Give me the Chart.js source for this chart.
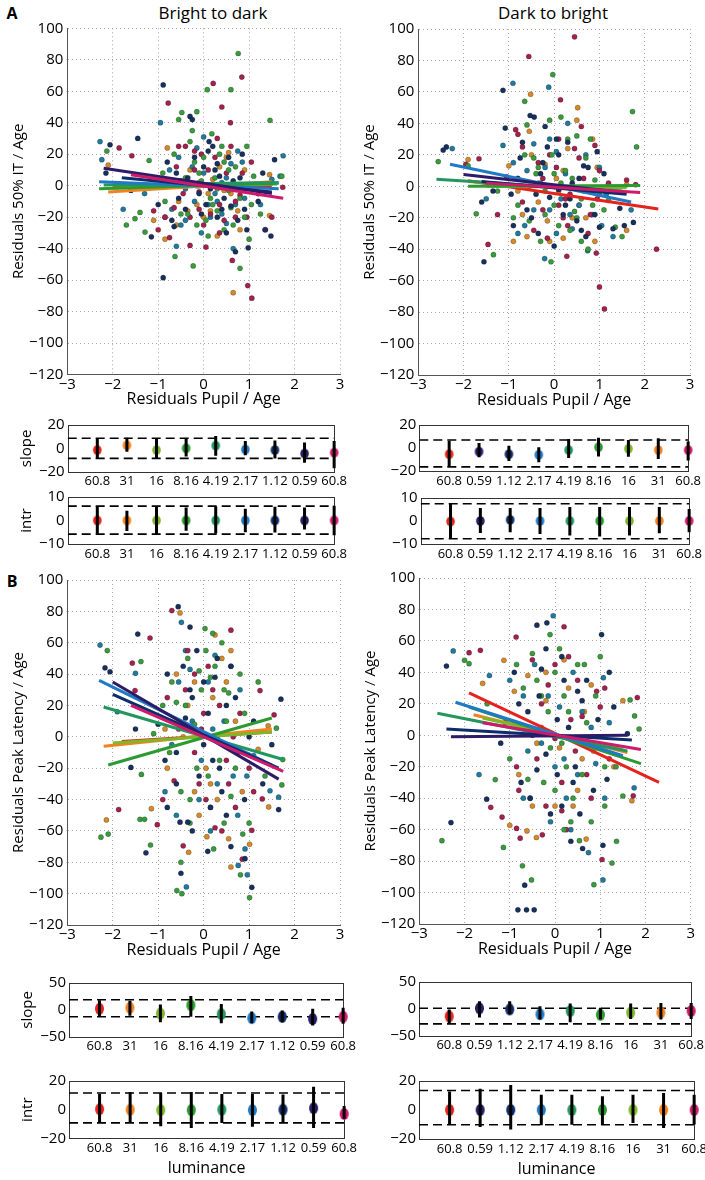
<!DOCTYPE html>
<html>
<head>
<meta charset="utf-8">
<script src="https://cdn.jsdelivr.net/npm/chart.js@4.4.1/dist/chart.umd.min.js"></script>
<style>
  body { margin: 0; background: #fff; width: 705px; height: 1180px; position: relative; overflow: hidden; font-family: "Open Sans", sans-serif; color: #000; }
  canvas { position: absolute; }
  .lbl { position: absolute; transform: translate(-50%, -50%); white-space: nowrap; }
</style>
</head>
<body>
<div class="lbl" style="left:12px;top:13px;font-size:16px;font-weight:bold">A</div>
<div class="lbl" style="left:12px;top:581px;font-size:16px;font-weight:bold">B</div>
<div class="lbl" style="left:213px;top:12px;font-size:17px">Bright to dark</div>
<div class="lbl" style="left:553px;top:12px;font-size:17px">Dark to bright</div>

<script>
// ---------------------- DATA ---------------------
const xTicks = [-3, -2, -1, 0, 1, 2, 3];
const yTicksScatter = [-120, -100, -80, -60, -40, -20, 0, 20, 40, 60, 80, 100];
const lumLeft = ["60.8", "31", "16", "8.16", "4.19", "2.17", "1.12", "0.59", "60.8"];
const lumRight = ["60.8", "0.59", "1.12", "2.17", "4.19", "8.16", "16", "31", "60.8"];
const lumPos = [1, 2, 3, 4, 5, 6, 7, 8, 9];

// scatter points, A bright to dark
const aLeftNavy = [[-0.89,64],[-2.06,26],[-1.45,30],[1.56,16.5],[-1.15,-32.5],[-0.89,-58.5],[0.98,-39.5],[1.48,-32],[0.7,-42],[-0.3,44],[-0.25,42],[0.1,22],[0.2,25],[0.45,-8],[-0.6,8],[-0.1,-5],[0.3,-20],[0.55,18],[-0.4,-15],[0.8,5],[-1.0,-12],[1.2,-10],[0.0,12],[-0.7,-22],[0.15,-2],[0.95,-28],[-0.5,3],[0.35,6],[1.1,0],[-1.6,-3],[-2.15,8],[0.6,-13],[1.35,-28],
  [-0.2,18],[0.05,-12],[0.4,-15],[-0.55,-8],[0.25,10],[0.65,3],[-0.8,15],[0.9,-15],[-0.35,5],[0.5,-30],[0.12,28],[-0.05,-18],[0.75,-22],[-0.15,0],[1.3,8],[0.3,14],[-0.65,-26],[0.85,20]];
const aLeftGreen = [[0.76,84],[0.08,61],[0.6,61],[-0.15,47],[-0.48,46.5],[1.46,41.5],[-2.13,22],[1.72,6],[-1.7,-25],[-1.51,-21],[-1.29,-29.5],[-0.63,-45],[-0.23,-51],[0.8,-52.5],[-0.55,42],[0.18,33],[0.35,20],[-0.2,15],[0.55,-3],[-0.35,-18],[0.05,-22],[0.9,-20],[1.0,-34],[-0.85,-10],[0.25,5],[-0.1,8],[0.6,-14],[1.25,-18],[-1.2,16],[-0.65,20],[0.45,-28],[0.15,-8],[1.1,6],[-1.4,-17],[0.7,12],[-0.3,28],[0.3,-16],
  [-0.4,5],[0.2,-12],[0.55,10],[-0.15,-25],[0.4,25],[-0.7,0],[0.0,18],[0.8,-8],[-0.5,-18],[0.3,-2],[-0.25,35],[0.65,-25],[1.05,-12],[-0.9,8],[0.1,-32],[0.45,15],[-0.05,3],[0.95,25]];
const aLeftMaroon = [[0.84,69],[0.21,65],[-0.78,52.5],[0.4,50],[0.59,40],[-1.86,24],[-1.58,19],[1.74,-1],[-1.0,-28],[0.63,-47.5],[0.97,-63.5],[1.06,-71.5],[1.36,-28],[-0.55,25],[-0.4,25],[-0.2,10],[0.3,30],[-0.1,-4],[0.5,8],[-0.65,-14],[0.15,-18],[0.8,-6],[-0.3,-38],[0.05,-39],[0.35,-12],[0.95,-20],[1.5,-20],[-0.85,-20],[0.7,-20],[-0.75,-33],[-0.05,20],[1.05,15],[-1.1,-16],
  [-0.3,-20],[0.1,10],[0.45,-22],[-0.6,12],[0.25,18],[0.7,-10],[-0.1,-15],[0.55,0],[-0.45,-5],[0.85,8],[0.0,-25],[-0.75,2],[1.2,-5],[0.35,-30],[-0.2,22],[0.6,25]];
const aLeftTeal = [[-2.28,28],[-2.24,16.5],[1.75,19],[1.68,6],[-1.77,-15],[-0.6,-38.5],[0.65,-40],[-0.95,40],[0.0,31],[-0.15,24],[0.25,-5],[0.5,-24],[-0.4,-2],[0.75,22],[-0.75,10],[0.1,-12],[1.25,-12],[-0.5,-25],[0.9,-8],[0.4,2],[-0.2,-10],[1.5,4],[-1.3,-5],[0.6,14],[-0.05,-30],
  [-0.25,12],[0.15,-20],[0.5,5],[-0.55,18],[0.3,-10],[-0.1,0],[0.7,-12],[0.0,8],[-0.4,-22],[0.85,15],[0.4,-18],[-0.7,-15]];
const aLeftOrange = [[0.65,-68],[-0.8,24],[-0.85,-34],[-0.85,-20],[-1.1,-22],[0.3,-32],[0.15,-16],[0.9,10],[1.45,7],[1.45,-19],[0.55,21],[-0.35,-16],[0.2,4],[-0.1,2],[0.45,-3],[-0.55,-10],[0.75,-16],[1.2,-5],[-2.1,13],[0.0,-20],
  [-0.3,10],[0.1,-5],[0.6,-5],[-0.6,-25],[0.35,12],[0.8,-28],[-0.15,-12],[0.5,18]];

// scatter points, A dark to bright
const aRightNavy = [[-1.13,61],[-0.53,45],[-0.44,44],[-1.08,37],[-2.45,23],[-2.38,25],[-1.55,-48],[-1.6,-10],[-0.2,38],[0.3,28],[0.65,13],[-0.8,5],[-0.1,-7],[0.5,-22],[1.0,-26],[1.3,-27],[1.55,-25],[-0.35,-30],[0.25,-12],[0.85,-3],[-0.6,-15],[0.1,20],[1.45,-14],[-0.95,-5],[0.4,2],[-0.25,15],[0.7,-32],[1.75,-23],[-1.35,-3],[0.95,22],[0.0,-38],[-0.7,28],
  [-0.3,8],[0.2,-18],[0.55,5],[-0.5,-20],[0.1,-2],[0.75,12],[-0.75,18],[0.35,-8],[-0.15,25],[0.9,-18],[-0.4,-5],[0.6,-28],[0.05,30],[1.1,8],[-0.9,-25]];
const aRightGreen = [[-0.03,71],[-0.65,54],[1.73,47.5],[-2.56,15.7],[1.82,25],[-1.72,-17.5],[-1.34,-43.5],[-0.07,-48],[-0.6,39],[-0.1,42],[0.15,44],[0.5,32],[0.8,30],[-0.45,18],[0.25,10],[-0.2,-3],[0.6,-8],[-0.8,-12],[0.35,-28],[-0.3,-35],[1.1,-15],[1.35,-26],[1.5,-32],[-1.25,-3],[0.0,8],[0.9,4],[-0.55,-22],[0.45,-16],[-1.9,13],[1.2,-9],[-0.9,-20],[0.1,-25],[0.75,-40],
  [-0.4,8],[0.15,2],[0.5,-20],[-0.65,20],[0.3,30],[-0.2,-18],[0.7,18],[0.0,-12],[-0.8,0],[0.4,5],[1.0,-5],[-0.35,12],[0.6,-35],[-0.05,20],[0.85,-12]];
const aRightMaroon = [[0.45,95],[-0.56,82.5],[0.14,55],[-1.66,17.5],[-1.95,14],[1.8,1],[-1.46,-37],[0.28,-44.5],[0.93,-42.5],[1.0,-64],[2.26,-40],[1.11,-78],[-0.85,36],[-0.8,33],[0.6,38],[0.9,26],[0.05,12],[-0.25,5],[0.55,18],[-0.7,-10],[0.2,-20],[-0.15,-33],[0.75,-30],[1.2,2],[-1.05,6],[0.35,-5],[-0.45,-28],[0.95,-8],[-1.25,-18],[0.1,30],[1.6,4],
  [-0.35,15],[0.25,-8],[0.65,5],[-0.55,0],[0.1,-12],[0.45,24],[-0.1,20],[0.8,-18],[-0.7,25],[0.3,-25],[-0.25,-15],[1.0,10]];
const aRightTeal = [[-0.12,63],[-0.91,65.5],[-1.13,26],[-2.25,24],[1.7,-15],[-0.21,-46],[0.74,-41],[-0.45,27],[0.3,40],[0.05,22],[-0.6,10],[0.6,-2],[-0.1,-15],[0.4,-27],[-0.8,-30],[1.0,12],[1.3,-32],[-0.3,2],[0.85,-18],[0.15,-8],[-1.5,-8],[1.15,-5],[-0.65,-25],
  [-0.2,12],[0.25,8],[0.55,-12],[-0.45,-15],[0.05,-30],[0.7,20],[-0.9,15],[0.35,-18],[1.05,-25],[-0.1,30]];
const aRightOrange = [[-0.52,58.5],[0.52,50],[-1.9,17],[0.5,42],[-0.55,35],[-0.2,14],[0.85,30],[0.3,24],[-0.8,-3],[0.1,-3],[0.55,-12],[-0.35,-10],[-0.6,-32],[-0.9,-35],[0.9,-35],[1.6,-28],[1.6,1],[-0.15,-22],[0.7,-20],[0.2,-33],[1.1,-2],[-1.0,13],
  [-0.35,2],[0.2,10],[0.65,-3],[-0.5,20],[0.05,5],[0.4,-20],[-0.7,-18],[0.95,12],[-0.1,-35]];

// scatter points, B bright to dark
const bLeftNavy = [[-0.56,83],[-0.3,70],[-1.45,65.5],[-2.17,44],[-2.06,41.5],[-1.6,-19.5],[-1.27,-74],[-0.52,-54.4],[-0.35,-54.4],[-0.5,-87],[0.09,-73],[0.6,-70],[1.06,-96],[0.91,-77.7],[1.65,-46.4],[1.3,-30],[-0.8,40],[-0.15,55],[0.25,38],[0.5,20],[-0.4,12],[0.0,-5],[0.35,-20],[-0.6,-30],[0.75,-10],[1.0,0],[-1.0,8],[0.15,-45],[-0.25,25],[0.6,45],[1.5,-5],[-0.85,-15],[1.7,24],[-1.5,5],[0.4,-35],
  [-0.3,30],[0.1,15],[0.45,-5],[-0.6,-10],[0.3,50],[-0.1,-25],[0.7,25],[-0.45,45],[0.2,-15],[0.9,-40],[-0.8,-45],[0.5,-50],[0.0,35],[-0.25,-60],[1.1,10]];
const bLeftGreen = [[0.03,69],[0.2,66],[-2.12,55],[-1.38,48],[1.6,5.5],[1.2,35],[1.74,-14.5],[-1.37,-24],[-2.26,-64],[-2.1,-62],[-1.4,-52.6],[-1.3,-52.6],[-1.17,-69],[-0.5,-80],[-0.59,-98],[-0.48,-100],[0.22,-71.5],[0.81,-88],[1.01,-102.5],[0.86,-62],[1.72,-30.7],[-0.35,50],[-0.1,42],[0.15,38],[0.4,60],[0.55,28],[-0.6,22],[-0.2,8],[0.3,0],[-0.75,-10],[0.1,-25],[0.6,-38],[-0.3,-40],[0.9,15],[-1.1,2],[0.45,-55],[-0.05,30],[1.35,-25],
  [-0.4,20],[0.25,45],[0.5,10],[-0.15,-20],[0.35,-15],[-0.7,35],[0.7,-20],[0.05,55],[-0.5,-35],[0.8,40],[0.15,-45],[-0.9,20],[1.0,-55],[0.45,30],[-0.3,-55]];
const bLeftMaroon = [[-0.7,80.5],[0.6,68],[-1.18,63],[-1.57,47],[-1.51,29.5],[1.24,29.5],[-1.87,-46.4],[-1.02,-56],[-0.45,-69.5],[0.85,-78],[1.06,-59.6],[1.29,-39.6],[-0.4,30],[0.1,45],[0.35,20],[-0.2,-10],[0.5,-15],[-0.65,-28],[0.0,15],[0.7,-45],[-0.9,-40],[1.0,-20],[0.25,-58],[-0.1,-30],[1.55,14],
  [-0.35,55],[0.2,30],[0.55,-30],[-0.55,5],[0.05,-40],[0.8,15],[-0.2,40],[0.4,-60],[-0.8,25],[0.65,0],[1.1,-35],[-0.05,5]];
const bLeftTeal = [[-0.49,73],[-2.28,58.5],[-1.5,40.5],[-1.9,16],[-0.38,-95.7],[0.76,-82],[0.96,-88],[0.91,-71.5],[1.65,-38.5],[1.46,-34.4],[-0.55,35],[-0.3,43],[0.25,52],[0.45,10],[-0.05,-15],[0.65,-25],[-0.7,-5],[0.15,-60],[1.1,-12],[-0.85,-35],[0.8,30],
  [-0.25,10],[0.3,-30],[0.6,45],[-0.6,-50],[0.1,35],[-0.4,55],[0.75,-50],[0.2,5],[-0.1,-40],[0.95,-25]];
const bLeftOrange = [[-0.52,79],[0.6,55],[1.42,7],[-2.14,-53],[-1.15,-45.8],[-0.33,-73.6],[0.07,-63.7],[0.6,-83],[1.01,-68.5],[1.43,-44.7],[-0.2,35],[0.2,25],[0.5,35],[-0.45,0],[0.05,-20],[0.3,-40],[-0.8,-20],[0.85,-35],[1.2,-8],[-0.1,-50],
  [-0.35,20],[0.4,50],[0.15,-30],[-0.6,40],[0.7,10],[-0.2,-35],[0.55,-65],[-0.85,5],[0.25,65]];

// scatter points, B dark to bright
const bRightNavy = [[-0.4,70],[-0.18,71.5],[1.03,64],[-2.4,44],[-1.51,-40.6],[-2.3,-55.5],[-0.67,-95.3],[-0.82,-111],[-0.63,-111],[-0.46,-111],[0.35,-67.4],[0.61,-72],[1.06,-70],[-0.9,40],[-0.3,42],[0.2,35],[0.5,28],[-0.6,15],[0.05,10],[-0.2,-12],[0.4,-30],[0.8,-5],[-0.75,-30],[1.3,18],[1.15,-28],[0.6,22],[-1.2,-5],[0.15,-45],[-0.4,-22],[1.6,1],[0.85,-35],
  [-0.35,25],[0.15,50],[0.45,-20],[-0.55,-40],[0.05,-25],[0.7,35],[-0.2,55],[0.3,5],[-0.8,20],[0.95,10],[-0.1,-50],[0.55,-50],[1.2,40],[-0.5,0]];
const bRightGreen = [[-0.11,64],[1.0,50],[-2.0,47.7],[-1.9,45.5],[1.66,22.5],[1.76,12.3],[1.86,4],[-1.32,-28.2],[-2.5,-67],[-1.14,-71.3],[-0.72,-83],[-0.52,-92],[0.2,-60],[0.54,-67],[0.86,-95],[1.26,-81.2],[1.36,-67.4],[1.5,-38.6],[-0.5,52],[0.1,55],[0.5,45],[-0.3,25],[0.3,15],[-0.7,30],[0.7,8],[-0.1,-8],[0.25,-20],[-0.55,-40],[1.1,-45],[0.9,25],[-1.0,-15],[0.0,-35],[-1.5,20],[1.35,-20],
  [-0.4,35],[0.2,25],[0.6,-25],[-0.6,-28],[0.0,40],[0.4,-40],[-0.25,-30],[0.8,-55],[-0.85,45],[0.15,-5],[0.65,45],[-0.15,15],[1.1,-20],[0.35,-55]];
const bRightMaroon = [[0.2,69],[-0.86,62.5],[-1.9,52.5],[-1.65,54],[1.82,24],[0.92,28],[1.1,30],[-1.42,-45.8],[-1.17,-52],[-0.85,-59.2],[-0.77,-65.4],[-0.28,-63.3],[1.04,-79],[1.73,-38.5],[-0.5,48],[0.3,50],[-0.15,32],[0.6,12],[0.0,-2],[-0.4,-15],[0.45,-10],[-0.85,-20],[0.8,-40],[0.15,-48],[-1.1,8],[1.2,-15],
  [-0.3,20],[0.15,-30],[0.5,35],[-0.6,5],[0.0,45],[0.7,-25],[-0.2,-45],[0.35,10],[-0.8,-35],[1.0,18],[0.25,-60]];
const bRightTeal = [[-0.04,76],[-2.25,53.6],[-1.45,38],[1.07,36.6],[-1.68,-25],[0.74,-74.6],[1.06,-92],[1.75,-33.4],[-0.7,25],[0.4,40],[0.1,18],[-0.3,-5],[0.5,-25],[-0.6,-10],[0.25,-40],[1.2,8],[-0.1,-55],[0.9,-18],[-1.0,35],
  [-0.45,45],[0.2,-15],[0.6,15],[-0.15,25],[0.35,-60],[-0.7,-40],[0.8,5],[0.0,-20],[1.1,-40]];
const bRightOrange = [[-1.13,47.7],[1.5,22],[-1.0,-57.2],[-0.62,-60.8],[-0.41,-65],[0.69,-66],[1.7,-41.6],[-0.2,40],[0.3,30],[-0.6,38],[0.8,32],[0.1,-8],[-0.3,5],[0.6,-15],[-0.8,-25],[0.4,-45],[1.3,-20],[-1.6,33],
  [-0.4,-5],[0.2,48],[0.5,-35],[-0.2,22],[0.65,15],[-0.5,-45],[0.0,-45],[0.85,-10],[-0.9,28]];

// regression lines [x1, y1, x2, y2], one per condition:
// red, orange, yellow-green, green, teal-green, blue, navy, purple, magenta
const aLeftFits = [[-2,-1,1.5,0],[-2.1,-4,1.5,2.5],[-2,-1.5,1.6,1],[-2.3,-2,1.65,1.5],[-2.2,0.5,1.65,2],[-2.3,2.5,1.65,-2],[-1.8,5,1.5,-4],[-2.2,11,1.5,-5],[-1.6,7,1.75,-8]];
const aRightFits = [[-1.9,3.5,2.3,-14.5],[-1.9,3,1.6,-4],[-1.5,0,1.6,-1],[-1.9,0,1.9,0.5],[-2.6,4.5,1.5,-3],[-2.3,14,1.7,-10],[-1.6,3,1.6,-5],[-2.0,7.5,1.5,-4],[-1.5,2,1.9,-4]];
const bLeftFits = [[-1.8,-3,1.5,3],[-2.2,-6,1.5,5],[-2.0,-4,1.5,3],[-2.1,-18,1.5,12],[-2.2,19,1.75,-14.5],[-2.3,36,1.5,-18],[-2.0,27,1.65,-20],[-2.0,35,1.65,-27],[-1.6,20,1.75,-22]];
const bRightFits = [[-1.9,27,2.3,-30],[-1.8,13,1.6,-11],[-1.6,11,1.5,-9],[-1.9,18,1.9,-18],[-2.6,14,1.6,-10],[-2.2,21,1.5,-13],[-2.4,4,1.7,-3],[-2.3,-1,1.6,0],[-1.6,8,1.9,-9]];

// slope / intercept per luminance step (mean, low, high) and the two dashed levels
const aLeftSlope = [-1.5, 2.6, -1.5, 0, 2.3, -1, -1.5, -4.5, -3.7];
const aLeftSlopeLo = [-8.6, -2.9, -8.6, -7, -6.4, -5.9, -8.6, -12.4, -17];
const aLeftSlopeHi = [8.6, 9.1, 8, 8.6, 10.5, 6.4, 6.7, 5, 6.4];
const aLeftSlopeRef = [8.6, -8.6];
const aLeftIntr = [0, 0, 0, 0, 0, 0, 0, 0, 0];
const aLeftIntrLo = [-5.6, -4.5, -6, -4.4, -5.5, -5, -5.1, -3.8, -6.3];
const aLeftIntrHi = [6.2, 4.2, 6, 5.5, 6, 5, 5.8, 5.5, 6.3];
const aLeftIntrRef = [6.1, -5.8];

const aRightSlope = [-5.4, -3.2, -5.4, -5.9, -1.8, 0.7, -0.7, -1.8, -1.8];
const aRightSlopeLo = [-16.4, -8.1, -11.4, -12.3, -8.7, -7.3, -7.6, -9.5, -10.9];
const aRightSlopeHi = [6.2, 4.3, 2, 0.7, 7.9, 9, 7, 8.4, 5.7];
const aRightSlopeRef = [7, -16.4];
const aRightIntr = [-0.2, 0, 0.5, 0, 0, 0, 0, 0, 0];
const aRightIntrLo = [-7.7, -5.2, -4.9, -5.6, -6.3, -6.7, -6.3, -5.3, -4.9];
const aRightIntrHi = [7.5, 5.7, 5.7, 5.7, 6.1, 6.1, 6.1, 6.1, 5.2];
const aRightIntrRef = [7.5, -7.7];

const bLeftSlope = [2, 3.9, -6.9, 8.7, -8, -15.3, -12.9, -17, -12.9];
const bLeftSlopeLo = [-12.3, -11, -23, -12.9, -24.8, -24.8, -23, -29, -26];
const bLeftSlopeHi = [17.7, 17, 9.9, 26, 11, -3.3, -1, 2, 3.9];
const bLeftSlopeRef = [18.9, -12.9];
const bLeftIntr = [0.3, 0, -0.3, -0.3, 0, -0.3, 0, 1, -3];
const bLeftIntrLo = [-9.4, -8.7, -11.6, -12.8, -9.4, -12, -9.4, -12.8, -6.4];
const bLeftIntrHi = [11, 12.3, 11.6, 12.3, 11, 11, 10.5, 16, 2.6];
const bLeftIntrRef = [11.6, -9.2];

const bRightSlope = [-14, 1, -1, -10, -4, -11, -7, -7, -4];
const bRightSlopeLo = [-28, -16, -10, -20, -25, -20, -19, -20, -19];
const bRightSlopeHi = [-1, 14, 14, 5, 10, 2, 10, 11, 11];
const bRightSlopeRef = [1, -28];
const bRightIntr = [0, 0, 0, 0, 0, 0, 0, 0, 0];
const bRightIntrLo = [-10.2, -11.7, -13.5, -10.6, -10.2, -10.2, -9, -12.4, -10];
const bRightIntrHi = [12.8, 14.6, 17.3, 10.6, 10.6, 9.5, 10.6, 11.7, 10.6];
const bRightIntrRef = [13.5, -10.2];

// ---------------------- STYLES ---------------------
const condColors = ["#e5231d", "#f3811f", "#7cb82a", "#2a9a31", "#23965e", "#1f79c4", "#0e2c6a", "#2d1b68", "#cf1a6c"];
const leftOrder = [0, 1, 2, 3, 4, 5, 6, 7, 8];
const rightOrder = [0, 7, 6, 5, 4, 3, 2, 1, 8];
const dotColors = { navy: "#17305c", green: "#3b9a3e", maroon: "#a2224e", teal: "#217a9c", orange: "#d3892c" };

const minus = v => (v < 0 ? "\u2212" + Math.abs(v) : String(v));
const toXY = arr => arr.map(p => ({ x: p[0], y: p[1] }));

function addCanvas(left, top, w, h) {
  const c = document.createElement("canvas");
  c.width = w; c.height = h;
  c.style.left = left + "px"; c.style.top = top + "px";
  c.style.width = w + "px"; c.style.height = h + "px";
  document.body.appendChild(c);
  return c;
}

// ellipse marker images for the small panels
const ellipseCache = {};
function ellipse(color, rx, ry) {
  const key = color + rx + ry;
  if (ellipseCache[key]) return ellipseCache[key];
  const c = document.createElement("canvas");
  c.width = Math.ceil(rx * 2 + 2); c.height = Math.ceil(ry * 2 + 2);
  const g = c.getContext("2d");
  g.fillStyle = color;
  g.beginPath();
  g.ellipse(c.width / 2, c.height / 2, rx, ry, 0, 0, Math.PI * 2);
  g.fill();
  ellipseCache[key] = c;
  return c;
}

const framePlugin = {
  id: "frame",
  beforeDatasetsDraw(chart) {
    const a = chart.chartArea, ctx = chart.ctx;
    ctx.save();
    ctx.strokeStyle = "#333";
    ctx.lineWidth = 1;
    ctx.strokeRect(Math.round(a.left) + 0.5, Math.round(a.top) + 0.5, Math.round(a.right - a.left), Math.round(a.bottom - a.top));
    ctx.restore();
  }
};

// ---------------------- SCATTER PANELS ---------------------
function makeScatter(box, yTitle, dots, fits) {
  const yW = 58, xH = 35;
  const cl = Math.round(box.L - 62), ct = Math.round(box.T - 16);
  const cw = Math.round(box.R + 14) - cl, ch = Math.round(box.B + 42) - ct;
  const canvas = addCanvas(cl, ct, cw, ch);

  const datasets = [];
  fits.forEach((f, i) => {
    datasets.push({
      data: [{ x: f[0], y: f[1] }, { x: f[2], y: f[3] }],
      showLine: true, borderColor: condColors[i], borderWidth: 3,
      pointRadius: 0, order: 10 - i
    });
  });
  dots.forEach(d => {
    datasets.push({
      data: toXY(d.pts), backgroundColor: d.color, borderColor: "rgba(0,0,0,0.35)",
      borderWidth: 0.6, pointRadius: 2.6, order: 100
    });
  });

  new Chart(canvas.getContext("2d"), {
    type: "scatter",
    data: { datasets: datasets },
    options: {
      responsive: false, animation: false, events: [],
      layout: { padding: { left: box.L - cl - yW, top: box.T - ct, right: cl + cw - box.R, bottom: ct + ch - box.B - xH } },
      plugins: { legend: { display: false }, tooltip: { enabled: false } },
      scales: {
        x: {
          type: "linear", min: -3, max: 3,
          afterBuildTicks: s => { s.ticks = xTicks.map(v => ({ value: v })); },
          afterFit: s => { s.height = xH; },
          ticks: { callback: minus, font: { family: "Open Sans", size: 15 }, color: "#000", padding: 1, maxRotation: 0, autoSkip: false },
          grid: { color: "#a8a8a8", drawTicks: false },
          border: { display: true, color: "#555", width: 1, dash: [1, 3] },
          title: { display: true, text: "Residuals Pupil / Age", font: { family: "Open Sans", size: 16 }, color: "#000", padding: 0 }
        },
        y: {
          type: "linear", min: -120, max: 100,
          afterBuildTicks: s => { s.ticks = yTicksScatter.map(v => ({ value: v })); },
          afterFit: s => { s.width = yW; },
          ticks: { callback: minus, font: { family: "Open Sans", size: 15 }, color: "#000", padding: 4, autoSkip: false },
          grid: { color: "#a8a8a8", drawTicks: false },
          border: { display: true, color: "#555", width: 1, dash: [1, 3] },
          title: { display: true, text: yTitle, font: { family: "Open Sans", size: 15 }, color: "#000", padding: 0 }
        }
      }
    }
  });
}

// ---------------------- SLOPE / INTERCEPT PANELS ---------------------
function makeSmall(box, o) {
  const yW = 50, xH = o.xTitle ? 40 : 19;
  const cl = Math.round(box.L - 58), ct = Math.round(box.T - 10);
  const cw = Math.round(box.R + 14) - cl, ch = Math.round(box.B + xH + 4) - ct;
  const canvas = addCanvas(cl, ct, cw, ch);

  const bars = [];
  lumPos.forEach((p, i) => {
    bars.push({ x: p, y: o.lo[i] }, { x: p, y: o.hi[i] }, { x: p, y: null });
  });
  const marks = lumPos.map((p, i) => ({ x: p, y: o.vals[i] }));
  const images = o.order.map(k => ellipse(condColors[k], o.rx, o.ry));

  const datasets = [
    { data: bars, showLine: true, spanGaps: false, borderColor: "#000", borderWidth: 3, pointRadius: 0, order: 0, clip: false },
    { data: marks, pointStyle: images, pointRadius: o.ry, order: 1, clip: false },
    { data: [{ x: 0, y: o.ref[0] }, { x: 9, y: o.ref[0] }], showLine: true, borderColor: "#000", borderWidth: 1.6, borderDash: [9, 5], pointRadius: 0, order: 2 },
    { data: [{ x: 0, y: o.ref[1] }, { x: 9, y: o.ref[1] }], showLine: true, borderColor: "#000", borderWidth: 1.6, borderDash: [9, 5], pointRadius: 0, order: 2 }
  ];

  new Chart(canvas.getContext("2d"), {
    type: "scatter",
    data: { datasets: datasets },
    plugins: [framePlugin],
    options: {
      responsive: false, animation: false, events: [],
      layout: { padding: { left: box.L - cl - yW, top: box.T - ct, right: cl + cw - box.R, bottom: ct + ch - box.B - xH } },
      plugins: { legend: { display: false }, tooltip: { enabled: false } },
      scales: {
        x: {
          type: "linear", min: 0, max: 9,
          afterBuildTicks: s => { s.ticks = lumPos.map(v => ({ value: v })); },
          afterFit: s => { s.height = xH; },
          ticks: { callback: (v, i) => o.labels[i], font: { family: "Open Sans", size: 13 }, color: "#000", padding: 2, maxRotation: 0, autoSkip: false },
          grid: { display: false, drawTicks: false },
          border: { display: false },
          title: { display: !!o.xTitle, text: o.xTitle || "", font: { family: "Open Sans", size: 16 }, color: "#000", padding: 0 }
        },
        y: {
          type: "linear", min: o.yTicks[0], max: o.yTicks[2],
          afterBuildTicks: s => { s.ticks = o.yTicks.map(v => ({ value: v })); },
          afterFit: s => { s.width = yW; },
          ticks: { callback: minus, font: { family: "Open Sans", size: 15 }, color: "#000", padding: 3, autoSkip: false },
          grid: { display: false, drawTicks: false },
          border: { display: false },
          title: { display: true, text: o.yTitle, font: { family: "Open Sans", size: 15 }, color: "#000", padding: 0 }
        }
      }
    }
  });
}

// ---------------------- BUILD ---------------------
const dotSet = (n, g, m, t, o) => [
  { pts: n, color: dotColors.navy }, { pts: g, color: dotColors.green },
  { pts: m, color: dotColors.maroon }, { pts: t, color: dotColors.teal }, { pts: o, color: dotColors.orange }
];

makeScatter({ L: 67.3, R: 340, T: 28.3, B: 374.5 }, "Residuals 50% IT / Age",
  dotSet(aLeftNavy, aLeftGreen, aLeftMaroon, aLeftTeal, aLeftOrange), aLeftFits);
makeScatter({ L: 418.3, R: 690, T: 29, B: 375 }, "Residuals 50% IT / Age",
  dotSet(aRightNavy, aRightGreen, aRightMaroon, aRightTeal, aRightOrange), aRightFits);
makeScatter({ L: 67.3, R: 340, T: 580, B: 925 }, "Residuals Peak Latency / Age",
  dotSet(bLeftNavy, bLeftGreen, bLeftMaroon, bLeftTeal, bLeftOrange), bLeftFits);
makeScatter({ L: 419.3, R: 690.7, T: 578, B: 924 }, "Residuals Peak Latency / Age",
  dotSet(bRightNavy, bRightGreen, bRightMaroon, bRightTeal, bRightOrange), bRightFits);

makeSmall({ L: 67.7, R: 335, T: 422.7, B: 471.7 }, { yTitle: "slope", yTicks: [-20, 0, 20], labels: lumLeft, order: leftOrder,
  vals: aLeftSlope, lo: aLeftSlopeLo, hi: aLeftSlopeHi, ref: aLeftSlopeRef, rx: 4.3, ry: 4.8 });
makeSmall({ L: 67.7, R: 335, T: 495, B: 544 }, { yTitle: "intr", yTicks: [-10, 0, 10], labels: lumLeft, order: leftOrder,
  vals: aLeftIntr, lo: aLeftIntrLo, hi: aLeftIntrHi, ref: aLeftIntrRef, rx: 4.3, ry: 4.8 });
makeSmall({ L: 419.3, R: 689, T: 422.7, B: 471 }, { yTitle: "", yTicks: [-20, 0, 20], labels: lumRight, order: rightOrder,
  vals: aRightSlope, lo: aRightSlopeLo, hi: aRightSlopeHi, ref: aRightSlopeRef, rx: 4.3, ry: 4.8 });
makeSmall({ L: 420.7, R: 690, T: 495.7, B: 544 }, { yTitle: "", yTicks: [-10, 0, 10], labels: lumRight, order: rightOrder,
  vals: aRightIntr, lo: aRightIntrLo, hi: aRightIntrHi, ref: aRightIntrRef, rx: 4.3, ry: 4.8 });

makeSmall({ L: 69, R: 344.3, T: 981, B: 1036.7 }, { yTitle: "slope", yTicks: [-50, 0, 50], labels: lumLeft, order: leftOrder,
  vals: bLeftSlope, lo: bLeftSlopeLo, hi: bLeftSlopeHi, ref: bLeftSlopeRef, rx: 4.5, ry: 6 });
makeSmall({ L: 69, R: 345, T: 1079.3, B: 1138.3 }, { yTitle: "intr", yTicks: [-20, 0, 20], labels: lumLeft, order: leftOrder,
  vals: bLeftIntr, lo: bLeftIntrLo, hi: bLeftIntrHi, ref: bLeftIntrRef, rx: 4.5, ry: 6, xTitle: "luminance" });
makeSmall({ L: 419, R: 692.3, T: 980, B: 1035.7 }, { yTitle: "", yTicks: [-50, 0, 50], labels: lumRight, order: rightOrder,
  vals: bRightSlope, lo: bRightSlopeLo, hi: bRightSlopeHi, ref: bRightSlopeRef, rx: 4.5, ry: 6 });
makeSmall({ L: 419, R: 695, T: 1079.3, B: 1139 }, { yTitle: "", yTicks: [-20, 0, 20], labels: lumRight, order: rightOrder,
  vals: bRightIntr, lo: bRightIntrLo, hi: bRightIntrHi, ref: bRightIntrRef, rx: 4.5, ry: 6, xTitle: "luminance" });
</script>
</body>
</html>
